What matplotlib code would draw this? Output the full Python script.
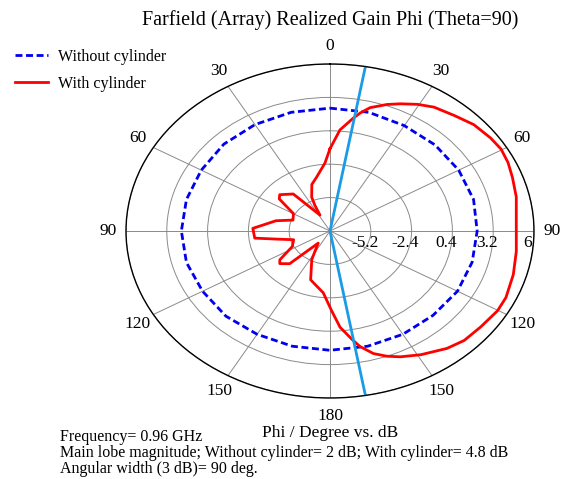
import numpy as np
import matplotlib.pyplot as plt
from matplotlib.lines import Line2D
from matplotlib.transforms import ScaledTranslation

plt.rcParams['font.family'] = ['Liberation Serif', 'DejaVu Serif']

# Phi in degrees (clockwise from 0 at top), gain in dB
red_phi = [0, 4.6, 9.6, 11.8, 14.9, 20.2, 24.3, 29.5, 34.5, 41.3, 47.9, 54.7,
           59.7, 64.8, 70.3, 77.4, 87.1, 97.6, 106.2, 114.8, 120.2, 127.9,
           134.9, 140.8, 149.0, 155.4, 159.6, 163.8, 168.0, 170.6, 175.1,
           179.0, 185.1, 191.3, 198.0, 207.6, 218.5, 225.3, 231.6, 235.0,
           243.2, 253.7, 259.4, 263.4, 272.4, 283.1, 289.8, 300.1, 307.7,
           311.4, 320.9, 332.7, 334.3, 336.1, 342.3, 348.4, 356.5]
red_db = [-1.1, 0.5, 1.6, 2.1, 2.7, 3.3, 3.7, 4.2, 4.6, 4.9, 5.3, 5.5,
          5.6, 5.5, 5.3, 5.1, 4.8, 4.9, 5.1, 5.3, 5.3, 5.1,
          5.0, 4.7, 4.1, 3.6, 3.2, 2.7, 1.9, 1.2, 0.1,
          -1.3, -2.8, -3.3, -3.7, -5.3, -6.7, -4.1, -3.6, -3.8,
          -5.1, -5.4, -4.3, -2.8, -2.7, -4.2, -5.3, -5.1, -3.6,
          -3.4, -4.0, -6.5, -5.6, -4.9, -3.9, -3.4, -2.3]

blue_phi = [0, 15, 30, 45, 60, 75, 90, 105, 120, 135, 150, 165,
            180, 195, 210, 225, 240, 255, 270, 285, 300, 315, 330, 345]
blue_db = [2.3, 2.3, 2.2, 2.2, 2.2, 2.2, 2.1, 2.1, 2.1, 2.0, 2.0, 2.0,
           2.0, 2.0, 2.0, 2.1, 2.1, 2.2, 2.2, 2.2, 2.2, 2.3, 2.3, 2.3]

# main lobe direction marker
beam_phi = [10, 10, 170]
beam_r = [6, -8, 6]

r_min, r_max = -8, 6
r_ticks = [-5.2, -2.4, 0.4, 3.2, 6]
r_labels = ['-5.2', '-2.4', '0.4', '3.2', '6']
theta_ticks = [0, 30, 60, 90, 120, 150, 180, 210, 240, 270, 300, 330]
theta_labels = ['0', '30', '60', '90', '120', '150', '180', '150', '120', '90', '60', '30']

fig = plt.figure(figsize=(5.64, 4.79), dpi=100)
ax = fig.add_axes([0.2234, 0.1691, 0.7234, 0.6973], projection='polar')
ax.set_aspect('auto')
ax.set_theta_zero_location('N')
ax.set_theta_direction(-1)
ax.set_rlim(r_min, r_max)

ax.set_thetagrids(theta_ticks, theta_labels, fontsize=12.5)
ax.set_rgrids(r_ticks, labels=[''] * len(r_ticks))
ax.tick_params(axis='x', pad=6, length=0)
ax.tick_params(axis='y', length=0)
ax.grid(True, color='#8a8a8a', lw=0.7)
ax.spines['polar'].set_color('black')
ax.spines['polar'].set_linewidth(1.0)

rp = np.deg2rad(np.r_[red_phi, red_phi[0]])
rv = np.r_[red_db, red_db[0]]
bp = np.deg2rad(np.r_[blue_phi, blue_phi[0]])
bv = np.r_[blue_db, blue_db[0]]

ax.plot(bp, bv, color='#0000ee', lw=2, dashes=(2.5, 1.3))
ax.plot(rp, rv, color='#ff0000', lw=2)
ax.plot(np.deg2rad(beam_phi), beam_r, color='#1a9be6', lw=2)

off = ScaledTranslation(-0.06, -0.12, fig.dpi_scale_trans)
for v, s in zip(r_ticks, r_labels):
    ax.text(np.pi / 2, v, s, transform=ax.transData + off,
            ha='center', va='center', fontsize=12.5)

fig.text(0.585, 0.958, 'Farfield (Array) Realized Gain Phi (Theta=90)',
         ha='center', va='center', fontsize=14.5)
fig.text(0.585, 0.095, 'Phi / Degree vs. dB', ha='center', va='center', fontsize=12.5)
fig.text(0.106, 0.087, 'Frequency= 0.96 GHz', ha='left', va='center', fontsize=11.5)
fig.text(0.106, 0.054,
         'Main lobe magnitude; Without cylinder= 2 dB; With cylinder= 4.8 dB',
         ha='left', va='center', fontsize=11.5)
fig.text(0.106, 0.020, 'Angular width (3 dB)= 90 deg.', ha='left', va='center', fontsize=11.5)

handles = [Line2D([], [], color='#0000ee', lw=2, dashes=(2.5, 1.3)),
           Line2D([], [], color='#ff0000', lw=2)]
fig.legend(handles, ['Without cylinder', 'With cylinder'], loc='upper left',
           bbox_to_anchor=(0.012, 0.915), frameon=False, fontsize=11.5,
           handlelength=2.1, handletextpad=0.6, labelspacing=0.7, borderpad=0)

fig.savefig('out.png', dpi=100)
